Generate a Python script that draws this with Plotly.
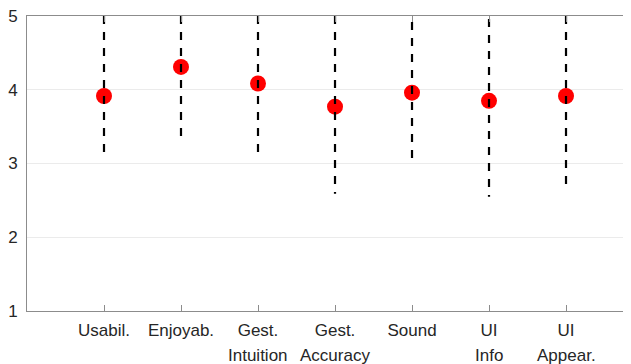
import plotly.graph_objects as go

categories = ["Usabil.", "Enjoyab.", "Gest. Intuition", "Gest. Accuracy", "Sound", "UI Info", "UI Appear."]
tick_line1 = ["Usabil.", "Enjoyab.", "Gest.", "Gest.", "Sound", "UI", "UI"]
tick_line2 = ["", "", "Intuition", "Accuracy", "", "Info", "Appear."]
means = [3.915, 4.31, 4.085, 3.77, 3.96, 3.85, 3.915]
lower = [3.14, 3.34, 3.10, 2.59, 3.02, 2.55, 2.72]
upper = [5.0, 5.0, 5.0, 5.0, 4.92, 4.96, 5.0]

fig = go.Figure()
fig.add_trace(go.Scatter(
    x=categories, y=means, mode="markers",
    marker=dict(color="#ff0000", size=16, line=dict(width=0)),
    showlegend=False, cliponaxis=False,
))
for c, lo, hi in zip(categories, lower, upper):
    fig.add_trace(go.Scatter(
        x=[c, c], y=[hi, lo], mode="lines",
        line=dict(color="black", width=2.2, dash="8px,8px"),
        showlegend=False,
    ))

font = dict(family="Liberation Sans, Arial, sans-serif", size=17, color="#262626")
for c, t in zip(categories, tick_line2):
    if t:
        fig.add_annotation(x=c, y=0, xref="x", yref="paper", text=t,
                           showarrow=False, yanchor="middle", yshift=-44,
                           font=font)

# page body has an 8px margin, so the figure is offset by 8px
fig.update_layout(
    width=623, height=356,
    margin=dict(l=19, r=0, t=8, b=53),
    paper_bgcolor="white", plot_bgcolor="white",
    font=font,
    xaxis=dict(
        type="category", categoryorder="array", categoryarray=categories,
        tickvals=categories, ticktext=tick_line1,
        range=[-1, 6.844], automargin=False,
        showline=True, linecolor="#8c8c8c", linewidth=1, mirror="ticks",
        ticks="inside", ticklen=6, tickcolor="#8c8c8c", tickwidth=1,
        showgrid=False, zeroline=False, tickfont=font, ticklabelstandoff=4,
        ticklabeloverflow="allow",
    ),
    yaxis=dict(
        range=[1, 5], tickvals=[1, 2, 3, 4, 5], automargin=False,
        showline=True, linecolor="#8c8c8c", linewidth=1, mirror=False,
        ticks="", showgrid=True, gridcolor="#ebebeb", gridwidth=1,
        zeroline=False, tickfont=font, ticklabelstandoff=5,
        ticklabeloverflow="allow",
    ),
)
fig.write_html("out.html")
